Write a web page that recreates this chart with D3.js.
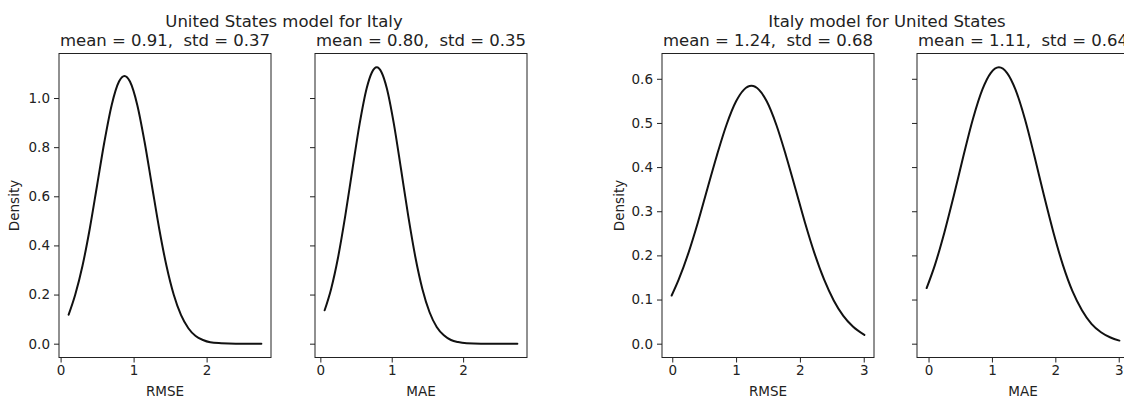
<!DOCTYPE html>
<html>
<head>
<meta charset="utf-8">
<script src="https://cdn.jsdelivr.net/npm/d3@7"></script>
<style>
  html, body { margin: 0; padding: 0; background: #fff; }
  svg { display: block; font-family: "DejaVu Sans", sans-serif; }
  svg text { white-space: pre; }
</style>
</head>
<body>
<svg id="chart" width="1124" height="399"></svg>
<script>
// ---------- data ----------
const groupTitles = ["United States model for Italy", "Italy model for United States"];
const panelTitles = ["mean = 0.91,  std = 0.37", "mean = 0.80,  std = 0.35",
                     "mean = 1.24,  std = 0.68", "mean = 1.11,  std = 0.64"];
const xLabels = ["RMSE", "MAE", "RMSE", "MAE"];
const yLabel = "Density";

const usItalyRmseX = [0.11,0.2,0.3,0.4,0.5,0.6,0.7,0.8,0.875,0.95,1.05,1.15,1.25,1.35,1.45,1.55,1.65,1.75,1.85,1.95,2.05,2.2,2.4,2.6,2.75];
const usItalyRmseY = [0.118,0.199,0.317,0.469,0.645,0.822,0.972,1.067,1.09,1.067,0.972,0.822,0.645,0.469,0.317,0.199,0.116,0.063,0.031,0.015,0.006,0.002,0,0,0];

const usItalyMaeX = [0.06,0.15,0.25,0.35,0.45,0.55,0.65,0.72,0.79,0.86,0.93,1.03,1.13,1.23,1.33,1.43,1.53,1.63,1.73,1.83,1.93,2.05,2.25,2.5,2.76];
const usItalyMaeY = [0.136,0.222,0.354,0.522,0.711,0.895,1.041,1.103,1.125,1.103,1.041,0.895,0.711,0.522,0.354,0.222,0.128,0.068,0.034,0.015,0.0065,0.002,0.0002,0,0];

const itUsRmseX = [-0.01,0.1,0.25,0.4,0.55,0.7,0.85,1.0,1.12,1.24,1.36,1.48,1.63,1.78,1.93,2.08,2.23,2.38,2.53,2.68,2.83,3.01];
const itUsRmseY = [0.109,0.145,0.204,0.274,0.351,0.427,0.496,0.549,0.575,0.584,0.575,0.549,0.496,0.427,0.351,0.274,0.204,0.145,0.098,0.063,0.039,0.020];

const itUsMaeX = [-0.03,0.1,0.25,0.4,0.55,0.7,0.85,0.98,1.11,1.24,1.37,1.52,1.67,1.82,1.97,2.12,2.27,2.42,2.57,2.72,2.87,3.01];
const itUsMaeY = [0.126,0.178,0.252,0.336,0.425,0.509,0.576,0.613,0.626,0.613,0.576,0.509,0.425,0.336,0.252,0.178,0.119,0.076,0.045,0.026,0.014,0.007];

const yTicksLeft = [0, 0.2, 0.4, 0.6, 0.8, 1.0];
const yTicksRight = [0, 0.1, 0.2, 0.3, 0.4, 0.5, 0.6];
const xTicksLeft = [0, 1, 2];
const xTicksRight = [0, 1, 2, 3];

// ---------- layout ----------
const svg = d3.select("#chart");
const plotTop = 53.5, plotBottom = 357.5;
const panels = [
  { x0: 59,  x1: 271,  xs: usItalyRmseX, ys: usItalyRmseY, group: 0, labels: true,  xt: xTicksLeft },
  { x0: 315, x1: 527,  xs: usItalyMaeX,  ys: usItalyMaeY,  group: 0, labels: false, xt: xTicksLeft },
  { x0: 662, x1: 874,  xs: itUsRmseX,    ys: itUsRmseY,    group: 1, labels: true,  xt: xTicksRight },
  { x0: 917, x1: 1129, xs: itUsMaeX,     ys: itUsMaeY,     group: 1, labels: false, xt: xTicksRight }
];
const groupYTicks = [yTicksLeft, yTicksRight];
const groupTitleX = [284, 887];

function padded(lo, hi) { const m = (hi - lo) * 0.05; return [lo - m, hi + m]; }

// shared y domains per group
const groupY = [0, 1].map(g => {
  const all = panels.filter(p => p.group === g).flatMap(p => p.ys);
  const d = padded(Math.min(0, d3.min(all)), d3.max(all));
  return d3.scaleLinear().domain(d).range([plotBottom, plotTop]);
});

const textColor = "#222";
const fontSmall = "13.5px";
const fontTitle = "16.5px";

panels.forEach((p, i) => {
  const x = d3.scaleLinear().domain(padded(d3.min(p.xs), d3.max(p.xs))).range([p.x0, p.x1]);
  const y = groupY[p.group];
  const g = svg.append("g");

  // curve
  const pts = p.xs.map((v, k) => [v, p.ys[k]]);
  g.append("path")
    .datum(pts)
    .attr("fill", "none")
    .attr("stroke", "#111")
    .attr("stroke-width", 2)
    .attr("stroke-linejoin", "round")
    .attr("stroke-linecap", "round")
    .attr("d", d3.line().x(d => x(d[0])).y(d => y(d[1])).curve(d3.curveMonotoneX));

  // x axis
  const xa = d3.axisBottom(x).tickValues(p.xt).tickFormat(d3.format("d")).tickSizeOuter(0).tickSize(5).tickPadding(3);
  const gx = g.append("g").attr("transform", `translate(0,${plotBottom})`).call(xa);
  gx.select(".domain").remove();
  gx.selectAll("line").attr("stroke", "#222");
  gx.selectAll("text").attr("fill", textColor).style("font-size", fontSmall).style("font-family", "DejaVu Sans");

  // y axis
  const ya = d3.axisLeft(y).tickValues(groupYTicks[p.group]).tickFormat(p.labels ? d3.format(".1f") : () => "").tickSizeOuter(0).tickSize(5).tickPadding(4);
  const gy = g.append("g").attr("transform", `translate(${p.x0},0)`).call(ya);
  gy.select(".domain").remove();
  gy.selectAll("line").attr("stroke", "#222");
  gy.selectAll("text").attr("fill", textColor).style("font-size", fontSmall).style("font-family", "DejaVu Sans");

  // frame
  g.append("rect")
    .attr("x", p.x0).attr("y", plotTop)
    .attr("width", p.x1 - p.x0).attr("height", plotBottom - plotTop)
    .attr("fill", "none").attr("stroke", "#222").attr("stroke-width", 1);

  // subtitle
  g.append("text")
    .attr("x", (p.x0 + p.x1) / 2).attr("y", 45.5)
    .attr("text-anchor", "middle")
    .attr("fill", textColor)
    .style("font-size", fontTitle)
    .text(panelTitles[i]);

  // x label
  g.append("text")
    .attr("x", (p.x0 + p.x1) / 2).attr("y", 396)
    .attr("text-anchor", "middle")
    .attr("fill", textColor)
    .style("font-size", fontSmall)
    .text(xLabels[i]);

  // y label
  if (p.labels) {
    const lx = p.group === 0 ? 19 : 624;
    g.append("text")
      .attr("transform", `translate(${lx},${(plotTop + plotBottom) / 2}) rotate(-90)`)
      .attr("text-anchor", "middle")
      .attr("fill", textColor)
      .style("font-size", fontSmall)
      .text(yLabel);
  }
});

// group titles
groupTitles.forEach((t, gi) => {
  svg.append("text")
    .attr("x", groupTitleX[gi]).attr("y", 27)
    .attr("text-anchor", "middle")
    .attr("fill", textColor)
    .style("font-size", fontTitle)
    .text(t);
});
</script>
</body>
</html>
